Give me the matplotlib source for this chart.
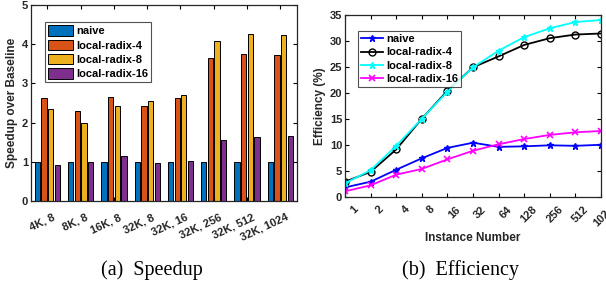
import numpy as np
import matplotlib.pyplot as plt
import matplotlib.transforms as mtrans

plt.rcParams['font.family'] = 'Liberation Sans'
plt.rcParams['font.weight'] = 'bold'

# (a) speedup data
configs = ['4K, 8', '8K, 8', '16K, 8', '32K, 8', '32K, 16', '32K, 256', '32K, 512', '32K, 1024']
naive_speedup = [1.0, 1.0, 1.0, 1.0, 1.0, 1.0, 1.0, 1.0]
lr4_speedup = [2.62, 2.30, 2.65, 2.42, 2.64, 3.64, 3.74, 3.72]
lr8_speedup = [2.35, 1.98, 2.42, 2.54, 2.70, 4.08, 4.25, 4.24]
lr16_speedup = [0.91, 1.00, 1.15, 0.96, 1.02, 1.56, 1.64, 1.65]

# (b) efficiency data
instances = [1, 2, 4, 8, 16, 32, 64, 128, 256, 512, 1024]
naive_eff = [1.9, 3.0, 5.3, 7.5, 9.5, 10.5, 9.7, 9.8, 10.0, 9.9, 10.1]
lr4_eff = [3.0, 4.9, 9.2, 15.1, 20.5, 25.0, 27.1, 29.3, 30.6, 31.3, 31.5]
lr8_eff = [2.7, 5.2, 9.9, 15.1, 20.3, 25.0, 28.2, 30.8, 32.5, 33.7, 34.1]
lr16_eff = [1.15, 2.3, 4.35, 5.45, 7.3, 8.95, 10.2, 11.2, 12.0, 12.5, 12.75]

W, H = 606, 284
fig = plt.figure(figsize=(W / 100, H / 100), dpi=100)

def px_axes(x0, y0, x1, y1):
    return fig.add_axes([x0 / W, 1 - y1 / H, (x1 - x0) / W, (y1 - y0) / H])

def style(ax):
    ax.tick_params(direction='in', top=True, right=True, length=3, width=0.8,
                   labelsize=8, pad=2, labelcolor='#262626')
    for s in ax.spines.values():
        s.set_linewidth(0.9)
        s.set_color('#262626')
    for lab in ax.get_xticklabels() + ax.get_yticklabels():
        lab.set_fontweight('bold')

def shift_xlabels(ax, dx_px):
    off = mtrans.ScaledTranslation(dx_px / 100, 0, fig.dpi_scale_trans)
    for lab in ax.get_xticklabels():
        lab.set_transform(lab.get_transform() + off)

# ---- speedup bars ----
ax1 = px_axes(30.7, 5, 297, 201)
x = np.arange(1, len(configs) + 1)
colors = ['#0072BD', '#D95319', '#EDB120', '#7E2F8E']
names = ['naive', 'local-radix-4', 'local-radix-8', 'local-radix-16']
series = [naive_speedup, lr4_speedup, lr8_speedup, lr16_speedup]
for i, (vals, c, n) in enumerate(zip(series, colors, names)):
    ax1.bar(x + (i - 1.5) * 0.2, vals, width=0.16, color=c, edgecolor='black',
            linewidth=0.7, label=n)
ax1.set_xlim(0.5, 8.5)
ax1.set_ylim(0, 5)
ax1.set_yticks([0, 1, 2, 3, 4, 5])
ax1.set_xticks(x)
ax1.set_xticklabels(configs, rotation=25, ha='right', va='top', rotation_mode='anchor')
ax1.set_ylabel('Speedup over Baseline', fontsize=8.5, fontweight='bold', labelpad=3,
               color='#262626')
style(ax1)
ax1.tick_params(axis='x', pad=8)
shift_xlabels(ax1, 5)
leg1 = ax1.legend(loc='upper left', bbox_to_anchor=(0.053, 0.913), fontsize=8,
                  fancybox=False, edgecolor='#262626', handlelength=2.25, handleheight=1.05,
                  borderpad=0.3, labelspacing=0.3, handletextpad=0.25, borderaxespad=0)
leg1.get_frame().set_linewidth(0.8)

# ---- efficiency lines ----
ax2 = px_axes(345, 15.3, 601, 197.3)
ax2.plot(instances, naive_eff, '-*', color='blue', lw=1.3, ms=5, label='naive')
ax2.plot(instances, lr4_eff, '-o', color='black', mfc='none', lw=1.3, ms=5, mew=1.0,
         label='local-radix-4')
ax2.plot(instances, lr8_eff, '-*', color='cyan', lw=1.3, ms=5, label='local-radix-8')
ax2.plot(instances, lr16_eff, '-x', color='magenta', lw=1.3, ms=4, mew=1.2,
         label='local-radix-16')
ax2.set_xscale('log', base=2)
ax2.set_xlim(1, 1024)
ax2.set_ylim(0, 35)
ax2.set_yticks(range(0, 36, 5))
ax2.set_xticks(instances)
ax2.set_xticklabels([str(v) for v in instances], rotation=45, ha='right', va='top',
                    rotation_mode='anchor')
ax2.minorticks_off()
ax2.set_xlabel('Instance Number', fontsize=8.5, fontweight='bold', labelpad=2,
               color='#262626')
ax2.set_ylabel('Efficiency (%)', fontsize=8.5, fontweight='bold', labelpad=3,
               color='#262626')
style(ax2)
ax2.tick_params(axis='x', pad=5)
shift_xlabels(ax2, 8)
leg2 = ax2.legend(loc='upper left', bbox_to_anchor=(0.05, 0.914), fontsize=8,
                  fancybox=False, edgecolor='#262626', handlelength=1.95,
                  borderpad=0.3, labelspacing=0.28, handletextpad=0.3, borderaxespad=0)
leg2.get_frame().set_linewidth(0.8)

# captions
fig.text(151.5 / W, 1 - 270 / H, '(a)  Speedup', family='Liberation Serif',
         fontweight='normal', fontsize=14.5, ha='center', va='center')
fig.text(461 / W, 1 - 270 / H, '(b)  Efficiency', family='Liberation Serif',
         fontweight='normal', fontsize=14.5, ha='center', va='center')

fig.savefig('out.png', dpi=100)
